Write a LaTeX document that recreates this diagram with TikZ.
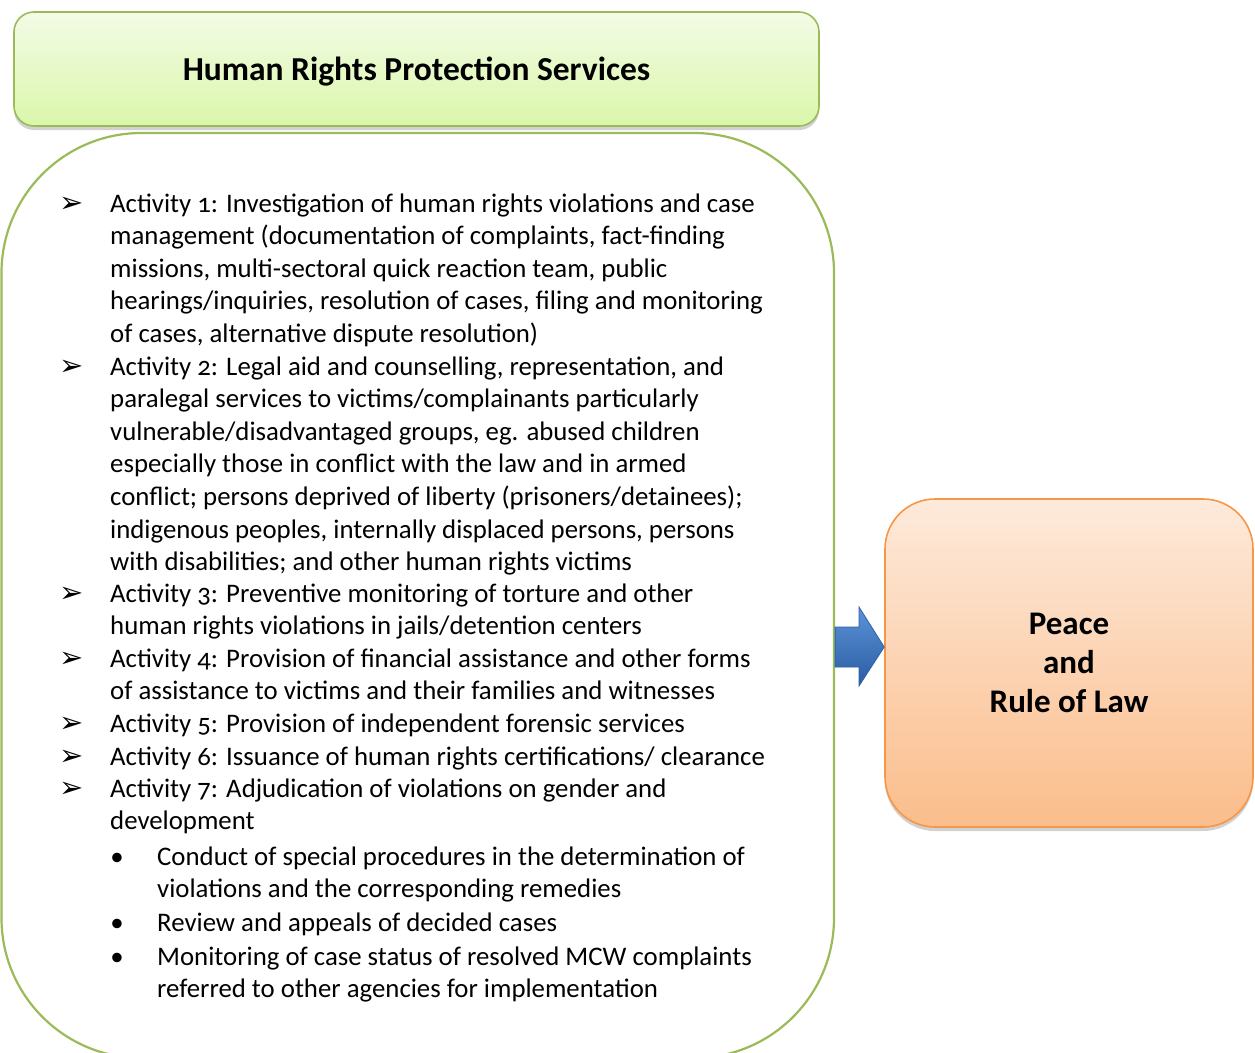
\documentclass[tikz,border=0pt]{standalone}
\usepackage{fontspec}
\setmainfont{Carlito}[Numbers=OldStyle]
\newfontfamily\headfont{Carlito}
\newfontfamily\symfont{DejaVu Sans}
\usetikzlibrary{shadows}
\definecolor{grnborder}{HTML}{9BBB59}
\definecolor{grntop}{HTML}{F3FBE6}
\definecolor{grnbot}{HTML}{DAF7AA}
\definecolor{orgborder}{HTML}{F79646}
\definecolor{orgtop}{HTML}{FDEADB}
\definecolor{orgbot}{HTML}{FBBD8B}
\definecolor{arrtop}{HTML}{5C93D8}
\definecolor{arrbot}{HTML}{2A5CA2}
\definecolor{arrborder}{HTML}{2F62A8}
\newcommand\bodyfont{\fontsize{26.8}{32.6}\selectfont}
\tikzset{
  boxshadow/.style={drop shadow={shadow xshift=0pt, shadow yshift=-4pt, opacity=.3, fill=black!60}},
  headbox/.style={draw=grnborder, line width=1.6pt, rounded corners=20pt, top color=grntop, bottom color=grnbot, boxshadow},
  goalbox/.style={draw=orgborder, line width=1.6pt, rounded corners=50pt, top color=orgtop, bottom color=orgbot, boxshadow, align=center, font=\bfseries\fontsize{33}{39}\selectfont},
  mainbox/.style={draw=grnborder, line width=2.2pt, rounded corners=140pt, fill=white},
  itemtext/.style={anchor=base west, inner sep=0pt, font=\bodyfont},
  arrowmark/.style={anchor=base, inner sep=0pt, font=\symfont\fontsize{29}{29}\selectfont},
  dotmark/.style={anchor=base, inner sep=0pt, font=\bodyfont},
}
\begin{document}
\begin{tikzpicture}[x=1pt,y=-1pt]
\useasboundingbox (0,0) rectangle (1255,1052);
\begin{scope}
\clip (0,0) rectangle (1255,1052);
\node[mainbox, minimum width=832.5pt, minimum height=925pt] (main) at (417.75,595.5) {};
\end{scope}
\node[headbox, minimum width=805pt, minimum height=114pt, font=\headfont\bfseries\fontsize{33.5}{38}\selectfont] (head) at (416.5,69) {\raisebox{-1pt}[20pt][0pt]{Human Rights Protection Services}};
\node[goalbox, minimum width=368pt, minimum height=328pt] (goal) at (1069,663) {Peace\\and\\Rule of Law};
% block arrow
\draw[arrborder, line width=0.8pt, top color=arrtop, bottom color=arrbot]
  (main.east |- 0,627) -- (859,627) -- (859,607) -- (goal.west |- 0,647) -- (859,686) -- (859,667) -- (main.east |- 0,667) -- cycle;
% items
\node[arrowmark] (m1) at (72,212) {➢};
\node[itemtext] (t1) at (110,212) {\parbox[t]{720pt}{\raggedright Activity 1: Investigation of human rights violations and case\\ management (documentation of complaints, fact-finding\\ missions, multi-sectoral quick reaction team, public\\ hearings/inquiries, resolution of cases, filing and monitoring\\ of cases, alternative dispute resolution)}};
\node[arrowmark] (m2) at (72,375) {➢};
\node[itemtext] (t2) at (110,375) {\parbox[t]{720pt}{\raggedright Activity 2: Legal aid and counselling, representation, and\\ paralegal services to victims/complainants particularly\\ vulnerable/disadvantaged groups, eg. abused children\\ especially those in conflict with the law and in armed\\ conflict; persons deprived of liberty (prisoners/detainees);\\ indigenous peoples, internally displaced persons, persons\\ with disabilities; and other human rights victims}};
\node[arrowmark] (m3) at (72,602) {➢};
\node[itemtext] (t3) at (110,602) {\parbox[t]{720pt}{\raggedright Activity 3: Preventive monitoring of torture and other\\ human rights violations in jails/detention centers}};
\node[arrowmark] (m4) at (72,667) {➢};
\node[itemtext] (t4) at (110,667) {\parbox[t]{720pt}{\raggedright Activity 4: Provision of financial assistance and other forms\\ of assistance to victims and their families and witnesses}};
\node[arrowmark] (m5) at (72,732) {➢};
\node[itemtext] (t5) at (110,732) {Activity 5: Provision of independent forensic services};
\node[arrowmark] (m6) at (72,765) {➢};
\node[itemtext] (t6) at (110,765) {Activity 6: Issuance of human rights certifications/ clearance};
\node[arrowmark] (m7) at (72,797) {➢};
\node[itemtext] (t7) at (110,797) {\parbox[t]{720pt}{\raggedright Activity 7: Adjudication of violations on gender and\\ development}};
% sub items
\node[dotmark] (d1) at (117,865) {•};
\node[itemtext] (s1) at (157,865) {\parbox[t]{660pt}{\raggedright Conduct of special procedures in the determination of\\ violations and the corresponding remedies}};
\node[dotmark] (d2) at (117,931) {•};
\node[itemtext] (s2) at (157,931) {Review and appeals of decided cases};
\node[dotmark] (d3) at (117,965) {•};
\node[itemtext] (s3) at (157,965) {\parbox[t]{660pt}{\raggedright Monitoring of case status of resolved MCW complaints\\ referred to other agencies for implementation}};
\end{tikzpicture}
\end{document}
